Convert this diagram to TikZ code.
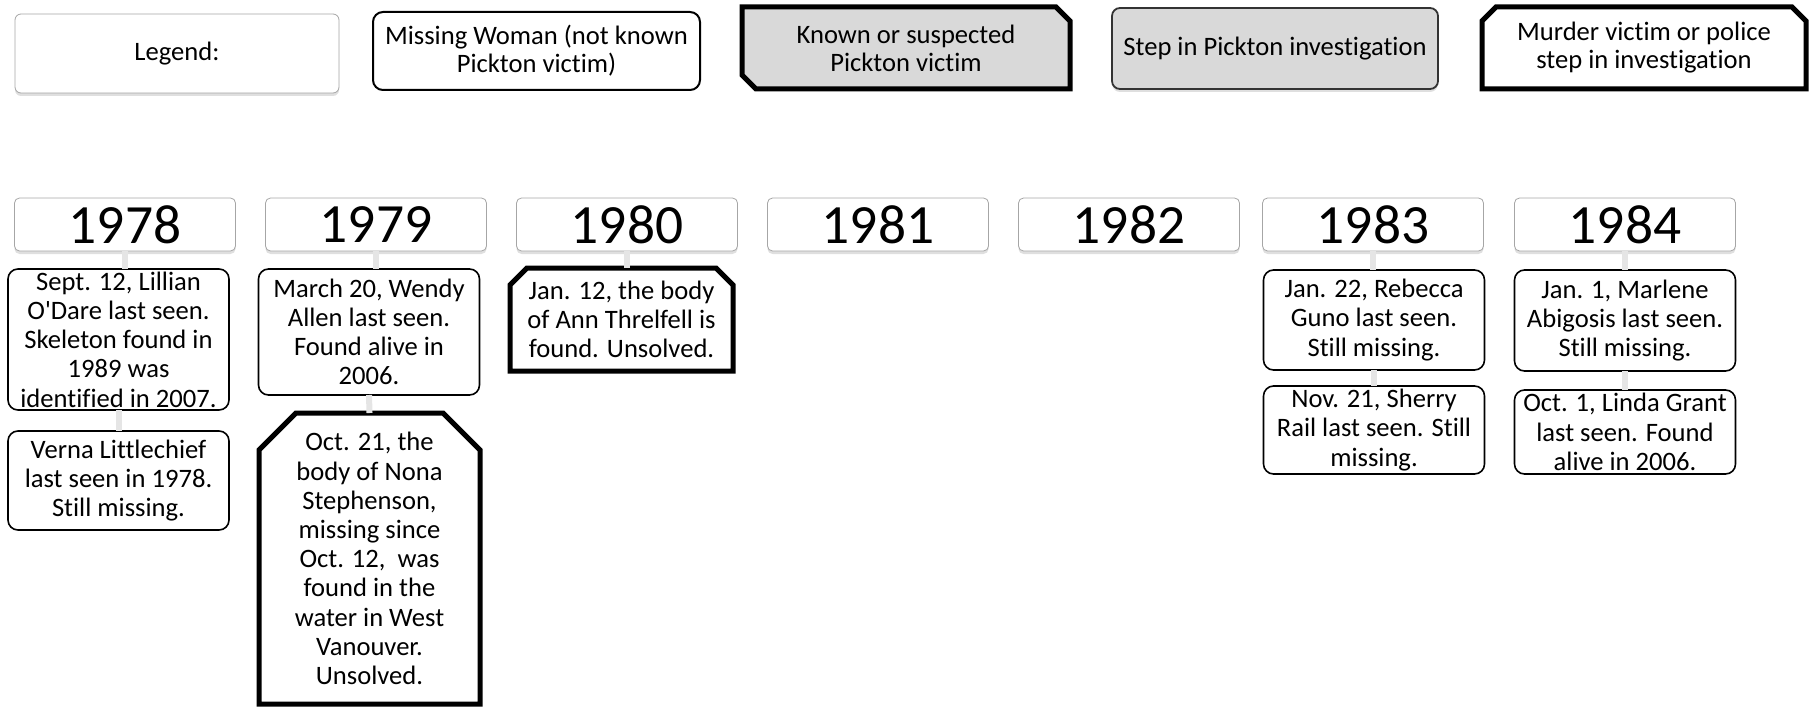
\documentclass[tikz,border=0pt]{standalone}
\usepackage{fontspec}
\setmainfont{Carlito}[Ligatures=NoCommon]
\usetikzlibrary{shadows,backgrounds}

\newcommand{\evfont}{\fontsize{13.3}{14.6}\selectfont}
\newcommand{\legfont}{\fontsize{13.3}{14}\selectfont}
\newcommand{\yrfont}{\fontsize{27.7}{30}\selectfont}

% outline with the two top corners cut off
\newcommand{\topsnip}[3][white]{%
  \filldraw[snipline, fill=#1] ([yshift=-#3]#2.north west) -- ([xshift=#3]#2.north west)
    -- ([xshift=-#3]#2.north east) -- ([yshift=-#3]#2.north east)
    -- (#2.south east) -- (#2.south west) -- cycle;}
% outline with the north east and south west corners cut off
\newcommand{\diagsnip}[3][black!15]{%
  \filldraw[snipline, fill=#1] (#2.north west) -- ([xshift=-#3]#2.north east)
    -- ([yshift=-#3]#2.north east) -- (#2.south east)
    -- ([xshift=#3]#2.south west) -- ([yshift=#3]#2.south west) -- cycle;}

\begin{document}
\begin{tikzpicture}[x=0.5pt,y=-0.5pt,
  every node/.style={align=center, inner sep=0pt, outer sep=0pt, font=\evfont},
  softshadow/.style={drop shadow={opacity=0.25, shadow xshift=0pt, shadow yshift=-1.5pt}},
  legbox/.style={draw=gray!70, rounded corners=3pt, fill=white, softshadow, font=\legfont},
  yearbox/.style={draw=gray!70, rounded corners=2.5pt, fill=white, softshadow,
    minimum width=110.5pt, minimum height=26.5pt, font=\yrfont},
  missbox/.style={draw, rounded corners=5pt, line width=0.8pt, fill=white, minimum width=110.5pt},
  victimbox/.style={minimum width=110.5pt},
  snipline/.style={draw=black, line width=2.5pt, line join=miter},
  link/.style={draw=gray!20, line width=3pt}]

  \useasboundingbox (0,0) rectangle (1813,706);

  % Legend row
  \node[legbox, minimum width=162pt, minimum height=39.5pt] (leg) at (177,53.5) {Legend:};
  \node[missbox, font=\legfont, minimum width=163.5pt, minimum height=39pt, line width=1pt] (legmiss) at (536.5,51) {Missing Woman (not known\\Pickton victim)};
  \node[font=\legfont, minimum width=164pt, minimum height=41pt] (legknown) at (906,48) {Known or suspected\\Pickton victim};
  \node[draw=black!80, rounded corners=4pt, line width=0.9pt, fill=black!15, softshadow, font=\legfont,
    minimum width=163pt, minimum height=40.5pt] (legstep) at (1275,48.5) {Step in Pickton investigation};
  \node[victimbox, font=\legfont, minimum width=162pt, minimum height=41pt] (legmurder) at (1644,48) {Murder victim or police\\step in investigation};

  % Years
  \node[yearbox] (y78) at (125,224.5) {1978};
  \node[yearbox] (y79) at (376,224.5) {1979};
  \node[yearbox] (y80) at (627,224.5) {1980};
  \node[yearbox] (y81) at (878,224.5) {1981};
  \node[yearbox] (y82) at (1129,224.5) {1982};
  \node[yearbox] (y83) at (1373,224.5) {1983};
  \node[yearbox] (y84) at (1625,224.5) {1984};

  % 1978
  \node[missbox, minimum height=70.5pt] (e78a) at (118.5,339.5) {Sept. 12, Lillian\\O\textquotesingle Dare last seen.\\Skeleton found in\\1989 was\\identified in 2007.};
  \node[missbox, minimum height=49.5pt] (e78b) at (118.5,480.5) {Verna Littlechief\\last seen in 1978.\\Still missing.};

  % 1979
  \node[missbox, minimum height=63pt] (e79a) at (369,332) {March 20, Wendy\\Allen last seen.\\Found alive in\\2006.};
  \node[victimbox, minimum height=145.5pt] (e79b) at (369.5,558.5) {Oct. 21, the\\body of Nona\\Stephenson,\\missing since\\Oct. 12,~ was\\found in the\\water in West\\Vanouver.\\Unsolved.};

  % 1980
  \node[victimbox, minimum width=111.5pt, minimum height=51.5pt] (e80a) at (621.5,319.5) {Jan. 12, the body\\of Ann Threlfell is\\found. Unsolved.};

  % 1983
  \node[missbox, minimum height=50pt] (e83a) at (1374,320) {Jan. 22, Rebecca\\Guno last seen.\\Still missing.};
  \node[missbox, minimum height=44pt] (e83b) at (1374,430) {Nov. 21, Sherry\\Rail last seen. Still\\missing.};

  % 1984
  \node[missbox, minimum height=50.5pt] (e84a) at (1625,320.5) {Jan. 1, Marlene\\Abigosis last seen.\\Still missing.};
  \node[missbox, minimum height=42pt] (e84b) at (1625,432) {Oct. 1, Linda Grant\\last seen. Found\\alive in 2006.};

  % snipped outlines behind the texts
  \begin{scope}[on background layer]
    \diagsnip{legknown}{7pt}
    \topsnip{legmurder}{7pt}
    \topsnip{e79b}{18.5pt}
    \topsnip{e80a}{8.5pt}
  \end{scope}

  % links
  \draw[link] (y78.south) -- (y78.south |- e78a.north);
  \draw[link] (e78a.south) -- (e78b.north);
  \draw[link] (y79.south) -- (y79.south |- e79a.north);
  \draw[link] (e79a.south) -- (e79b.north);
  \draw[link] (y80.south) -- (y80.south |- e80a.north);
  \draw[link] (y83.south) -- (y83.south |- e83a.north);
  \draw[link] (e83a.south) -- (e83b.north);
  \draw[link] (y84.south) -- (y84.south |- e84a.north);
  \draw[link] (e84a.south) -- (e84b.north);

\end{tikzpicture}
\end{document}
